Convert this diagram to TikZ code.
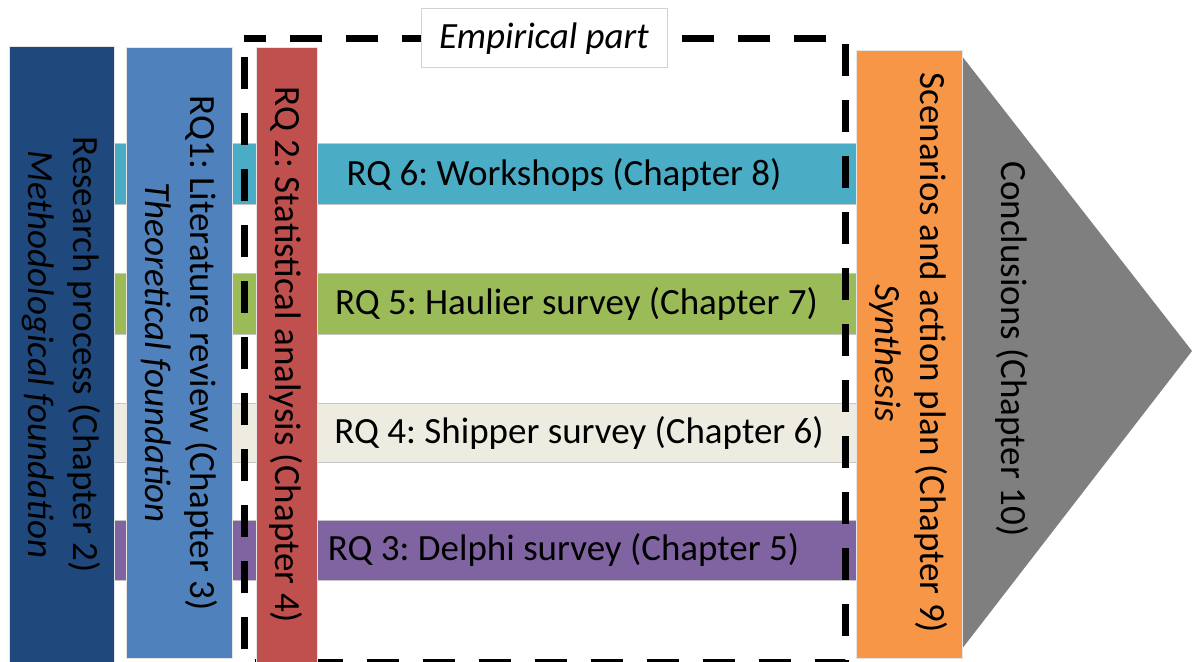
\documentclass[tikz,border=0pt]{standalone}
\usepackage{fontspec}
\setmainfont{Carlito}
\frenchspacing

\definecolor{rpblue}{HTML}{1F497D}
\definecolor{litblue}{HTML}{4F81BD}
\definecolor{statred}{HTML}{C0504D}
\definecolor{wsteal}{HTML}{4BACC6}
\definecolor{haulgreen}{HTML}{9BBB59}
\definecolor{shipbeige}{HTML}{EEECE1}
\definecolor{delphipurple}{HTML}{8064A2}
\definecolor{synorange}{HTML}{F79646}
\definecolor{conclgray}{HTML}{7F7F7F}

\begin{document}
\begin{tikzpicture}[x=0.5pt, y=-0.5pt,
    rqbar/.style={draw=gray!45, line width=0.5pt},
    colbox/.style={draw=gray!20, line width=0.5pt},
    txt/.style={font=\fontsize{18.5}{22.5}\selectfont, align=center, inner sep=0pt},
    sidetxt/.style={txt, rotate=-90},
    frame/.style={line width=3.5pt, dash pattern=on 16pt off 12pt, dash phase=5pt}]

    \useasboundingbox (0,0) rectangle (1192,662);

    % Horizontal bars (research questions of the empirical part)
    \filldraw[rqbar, fill=wsteal] (100,144) rectangle (856,205);
    \filldraw[rqbar, fill=haulgreen] (100,274) rectangle (856,334);
    \filldraw[rqbar, fill=shipbeige] (100,403) rectangle (856,462);
    \filldraw[rqbar, fill=delphipurple] (100,520) rectangle (856,580);

    % Dashed frame round the empirical part
    \coordinate (E1) at (244,39);
    \coordinate (E2) at (845,662);
    \draw[frame] (E1) -- (E1 -| E2) -- (E2) -- (E1 |- E2) -- cycle;

    % Vertical columns
    \filldraw[colbox, fill=rpblue] (9,47) rectangle (114,662);
    \filldraw[colbox, fill=litblue] (126,48) rectangle (232,658);
    \filldraw[colbox, fill=statred] (256,48) rectangle (317,662);

    % Conclusions arrow head, then the synthesis column on top
    \fill[conclgray] (958,51) -- (1192,351) -- (958,654) -- cycle;
    \filldraw[colbox, fill=synorange] (856,51) rectangle (962,658);

    % Label of the frame
    \node[txt, draw=gray!35, line width=0.5pt, fill=white,
          minimum width=123pt, minimum height=29.5pt] (emp) at (544,38.5)
          {\textit{Empirical part}};

    % Texts of the columns
    \node[sidetxt] (rp) at (61.5,354.5)
        {Research process (Chapter 2)\\\textit{Methodological foundation}};
    \node[sidetxt] (rq1) at (179,353)
        {RQ1: Literature review (Chapter 3)\\\textit{Theoretical foundation}};
    \node[sidetxt] (rq2) at (286,355) {RQ 2: Statistical analysis (Chapter 4)};
    \node[sidetxt] (syn) at (909,353)
        {Scenarios and action plan (Chapter 9)\\\textit{Synthesis}};
    \node[sidetxt] (concl) at (1012,349) {Conclusions (Chapter 10)};

    % Texts of the bars
    \node[txt] (rq6) at (564,174.5) {RQ 6: Workshops (Chapter 8)};
    \node[txt] (rq5) at (576.5,304) {RQ 5: Haulier survey (Chapter 7)};
    \node[txt] (rq4) at (579,432.5) {RQ 4: Shipper survey (Chapter 6)};
    \node[txt] (rq3) at (563.5,550) {RQ 3: Delphi survey (Chapter 5)};

\end{tikzpicture}
\end{document}
